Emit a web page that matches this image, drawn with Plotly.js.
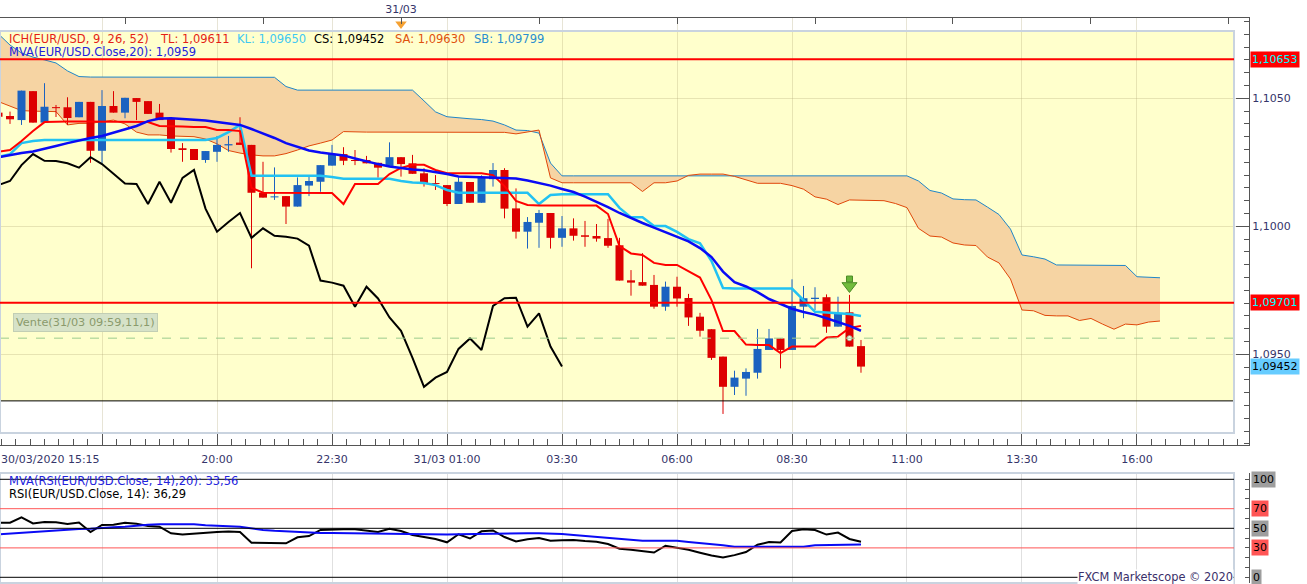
<!DOCTYPE html>
<html>
<head>
<meta charset="utf-8">
<script src="https://cdn.plot.ly/plotly-3.0.1.min.js"></script>
<style>
html,body{margin:0;padding:0;background:#ffffff;}
#chart{width:1307px;height:584px;}
</style>
</head>
<body>
<div id="chart"></div>
<script>
// ---------- DATA (EUR/USD, 15 min, from 30/03/2020 15:15) ----------
const open = [1.10444,1.10431,1.10415,1.10528,1.10405,1.10465,1.10465,1.10426,1.10486,1.10295,
1.10470,1.10444,1.10501,1.10489,1.10444,1.10419,1.10305,1.10302,1.10259,1.10291,
1.10316,1.10327,1.10318,1.10131,1.10113,1.10118,1.10077,1.10159,1.10174,1.10237,
1.10282,1.10259,1.10259,1.10248,1.10236,1.10270,1.10246,1.10207,1.10169,1.10161,
1.10087,1.10173,1.10092,1.10184,1.10220,1.10070,1.09979,1.10014,1.10052,1.09955,
1.09992,1.09965,1.09962,1.09954,1.09926,1.09789,1.09782,1.09771,1.09686,1.09764,
1.09720,1.09647,1.09598,1.09491,1.09373,1.09405,1.09428,1.09517,1.09562,1.09517,
1.09686,1.09716,1.09723,1.09608,1.09664,1.09532];
const high = [1.10454,1.10448,1.10530,1.10528,1.10559,1.10474,1.10504,1.10486,1.10486,1.10532,
1.10528,1.10502,1.10501,1.10489,1.10478,1.10419,1.10325,1.10302,1.10294,1.10353,
1.10353,1.10426,1.10318,1.10252,1.10230,1.10118,1.10191,1.10194,1.10239,1.10318,
1.10309,1.10298,1.10275,1.10248,1.10328,1.10270,1.10279,1.10227,1.10200,1.10161,
1.10191,1.10173,1.10199,1.10247,1.10227,1.10148,1.10036,1.10064,1.10052,1.10040,
1.10031,1.10021,1.10009,1.10029,1.09955,1.09829,1.09895,1.09810,1.09784,1.09803,
1.09736,1.09662,1.09598,1.09491,1.09436,1.09445,1.09599,1.09599,1.09562,1.09793,
1.09767,1.09762,1.09734,1.09725,1.09732,1.09556];
const low = [1.10423,1.10400,1.10396,1.10405,1.10405,1.10427,1.10396,1.10426,1.10248,1.10246,
1.10444,1.10422,1.10415,1.10439,1.10415,1.10288,1.10252,1.10259,1.10248,1.10252,
1.10291,1.10318,1.09836,1.10112,1.10103,1.10009,1.10077,1.10118,1.10135,1.10237,
1.10239,1.10239,1.10246,1.10190,1.10236,1.10194,1.10205,1.10155,1.10142,1.10079,
1.10087,1.10092,1.10092,1.10155,1.10031,1.09952,1.09913,1.09916,1.09913,1.09920,
1.09944,1.09920,1.09940,1.09916,1.09788,1.09729,1.09768,1.09678,1.09670,1.09686,
1.09611,1.09569,1.09478,1.09267,1.09341,1.09338,1.09405,1.09517,1.09445,1.09517,
1.09641,1.09673,1.09584,1.09608,1.09530,1.09428];
const close = [1.10428,1.10418,1.10530,1.10405,1.10467,1.10462,1.10423,1.10486,1.10295,1.10470,
1.10444,1.10502,1.10486,1.10439,1.10415,1.10302,1.10298,1.10259,1.10294,1.10318,
1.10321,1.10318,1.10131,1.10112,1.10117,1.10077,1.10161,1.10177,1.10239,1.10282,
1.10256,1.10255,1.10246,1.10229,1.10270,1.10243,1.10205,1.10167,1.10165,1.10087,
1.10174,1.10092,1.10189,1.10220,1.10069,1.09979,1.10017,1.10052,1.09955,1.09992,
1.09963,1.09959,1.09952,1.09924,1.09788,1.09780,1.09768,1.09686,1.09764,1.09718,
1.09644,1.09592,1.09486,1.09373,1.09409,1.09431,1.09521,1.09562,1.09517,1.09689,
1.09719,1.09721,1.09608,1.09660,1.09530,1.09452];

// Ichimoku Tenkan (TL) and Kijun (KL)
const tenkan = [1.10291,1.10298,1.10333,1.10372,1.10407,1.10409,1.10409,1.10409,1.10409,1.10409,
1.10409,1.10409,1.10409,1.10407,1.10392,1.10392,1.10390,1.10388,1.10388,1.10376,
1.10376,1.10372,1.10150,1.10131,1.10131,1.10131,1.10131,1.10131,1.10131,1.10130,
1.10087,1.10165,1.10165,1.10165,1.10204,1.10228,1.10240,1.10240,1.10220,1.10207,
1.10207,1.10207,1.10207,1.10200,1.10157,1.10099,1.10083,1.10081,1.10081,1.10081,
1.10081,1.10081,1.10081,1.10048,1.09923,1.09894,1.09888,1.09857,1.09849,1.09849,
1.09825,1.09800,1.09712,1.09591,1.09591,1.09538,1.09536,1.09536,1.09505,1.09530,
1.09530,1.09530,1.09566,1.09569,1.09603,1.09611];
const kijun = [1.10271,1.10282,1.10325,1.10333,1.10337,1.10337,1.10337,1.10337,1.10337,1.10337,
1.10337,1.10337,1.10337,1.10337,1.10337,1.10337,1.10337,1.10337,1.10337,1.10345,
1.10368,1.10396,1.10197,1.10197,1.10197,1.10197,1.10197,1.10197,1.10197,1.10193,
1.10186,1.10186,1.10186,1.10186,1.10186,1.10177,1.10171,1.10169,1.10161,1.10142,
1.10131,1.10131,1.10131,1.10131,1.10131,1.10131,1.10131,1.10087,1.10122,1.10125,
1.10125,1.10125,1.10125,1.10125,1.10072,1.10035,1.10035,1.10001,1.10001,1.09978,
1.09950,1.09934,1.09864,1.09759,1.09757,1.09757,1.09757,1.09757,1.09757,1.09757,
1.09712,1.09666,1.09663,1.09661,1.09657,1.09650];
// Senkou A / B (cloud, 26 bars ahead)
const senkouA = [1.10487,1.10470,1.10452,1.10450,1.10448,1.10448,1.10396,1.10402,1.10402,1.10409,
1.10415,1.10400,1.10368,1.10357,1.10357,1.10353,1.10351,1.10350,1.10341,1.10322,
1.10296,1.10286,1.10279,1.10275,1.10275,1.10284,1.10298,1.10314,1.10325,1.10337,
1.10370,1.10368,1.10368,1.10368,1.10368,1.10368,1.10368,1.10368,1.10368,1.10367,
1.10367,1.10367,1.10367,1.10367,1.10367,1.10361,1.10368,1.10376,1.10189,1.10170,
1.10170,1.10170,1.10170,1.10170,1.10170,1.10170,1.10136,1.10170,1.10170,1.10177,
1.10199,1.10204,1.10204,1.10204,1.10195,1.10181,1.10168,1.10168,1.10168,1.10159,
1.10145,1.10115,1.10106,1.10085,1.10103,1.10102,1.10102,1.10100,1.10089,1.10073,
1.09992,1.09962,1.09958,1.09935,1.09927,1.09925,1.09880,1.09857,1.09794,1.09673,
1.09670,1.09652,1.09650,1.09650,1.09632,1.09640,1.09618,1.09598,1.09618,1.09615,
1.09626,1.09630];
const senkouB = [1.10751,1.10708,1.10677,1.10661,1.10650,1.10638,1.10607,1.10585,1.10583,1.10583,
1.10583,1.10583,1.10583,1.10583,1.10583,1.10583,1.10583,1.10583,1.10583,1.10583,
1.10583,1.10583,1.10583,1.10583,1.10582,1.10546,1.10532,1.10532,1.10532,1.10532,
1.10532,1.10532,1.10532,1.10532,1.10532,1.10532,1.10532,1.10490,1.10447,1.10428,
1.10423,1.10420,1.10417,1.10411,1.10396,1.10376,1.10374,1.10364,1.10247,1.10197,
1.10197,1.10197,1.10197,1.10197,1.10197,1.10197,1.10197,1.10197,1.10197,1.10197,
1.10197,1.10197,1.10197,1.10197,1.10197,1.10197,1.10197,1.10197,1.10197,1.10197,
1.10197,1.10197,1.10197,1.10197,1.10197,1.10197,1.10197,1.10197,1.10197,1.10197,
1.10177,1.10140,1.10130,1.10107,1.10104,1.10103,1.10075,1.10046,1.09989,1.09888,
1.09881,1.09872,1.09849,1.09849,1.09849,1.09849,1.09849,1.09849,1.09847,1.09803,
1.09802,1.09799];
// MVA(Close,20)
const mva20 = [1.10270,1.10279,1.10286,1.10292,1.10302,1.10314,1.10325,1.10336,1.10345,1.10353,
1.10366,1.10378,1.10392,1.10411,1.10421,1.10422,1.10419,1.10417,1.10413,1.10407,
1.10402,1.10396,1.10380,1.10363,1.10345,1.10325,1.10310,1.10296,1.10288,1.10282,
1.10277,1.10265,1.10253,1.10243,1.10234,1.10227,1.10222,1.10219,1.10212,1.10204,
1.10195,1.10193,1.10193,1.10191,1.10189,1.10187,1.10179,1.10170,1.10159,1.10146,
1.10134,1.10116,1.10097,1.10075,1.10052,1.10031,1.10013,1.09995,1.09978,1.09961,
1.09941,1.09915,1.09880,1.09823,1.09782,1.09765,1.09743,1.09716,1.09697,1.09678,
1.09665,1.09655,1.09641,1.09626,1.09611,1.09592];
// RSI(14) and its MVA(20)
const rsi = [55.7,55.7,61.2,54.9,56.4,56.1,54.4,55.9,46.2,53.4,
53.7,55.7,54.6,52.3,51.6,44.9,43.6,44.7,45.8,46.2,
46.7,46.2,35.3,35.0,34.7,34.7,40.8,42.1,48.3,49.0,
49.0,49.0,47.6,46.2,49.5,47.2,43.2,41.4,39.1,35.7,
43.9,39.6,46.9,47.8,41.1,36.5,38.9,40.1,37.3,37.8,
38.1,37.0,36.2,34.0,29.1,28.1,27.0,25.3,32.2,30.4,
28.1,25.1,22.2,20.2,22.6,25.8,33.2,36.0,35.5,47.2,
49.0,48.3,43.6,45.7,39.1,36.29];
const rsiMva = [43.9,44.7,45.5,46.0,46.7,47.4,48.7,49.2,49.5,50.5,
51.1,51.7,52.8,53.6,54.2,54.4,54.4,54.1,53.1,52.3,
52.0,51.6,49.6,48.3,47.4,46.7,46.0,45.6,45.2,45.1,
44.9,44.8,44.6,44.5,44.4,44.2,44.0,43.8,43.6,43.7,
44.0,44.2,44.6,44.9,44.9,44.9,44.9,44.9,44.9,44.2,
43.2,42.1,41.1,40.1,39.1,38.1,37.3,37.3,37.3,37.3,
36.0,35.0,34.0,32.7,31.2,31.2,31.2,31.2,31.2,31.2,
31.2,32.7,32.8,33.0,33.6,33.56];

// Levels, order and signal
const redLevels = [1.10653, 1.09701];
const zoneLow = 1.09318;
const orderLevel = 1.09563;
const signalIndex = 74;
const signalPrice = [1.09794, 1.09767];
const rsiLevels = [100, 70, 50, 30, 0];

// Axis ticks / labels
const gridTimes = ['2020-03-30 17:30','2020-03-30 20:00','2020-03-30 22:30','2020-03-31 01:00','2020-03-31 03:30','2020-03-31 06:00','2020-03-31 08:30','2020-03-31 11:00','2020-03-31 13:30','2020-03-31 16:00'];
const gridLabels = ['','20:00','22:30','31/03 01:00','03:30','06:00','08:30','11:00','13:30','16:00'];
const firstLabel = '30/03/2020 15:15';
const topTimes = ['2020-03-30 18:00','2020-03-30 21:00','2020-03-31 00:00','2020-03-31 03:00','2020-03-31 06:00','2020-03-31 09:00','2020-03-31 12:00','2020-03-31 15:00','2020-03-31 18:00'];
const topLabels = ['','','31/03','','','','','',''];
const priceTicks = [1.0950, 1.1000, 1.1050];

// ---------- BUILD ----------
function pad(n){return (n<10?'0':'')+n;}
function timeAt(i){
  const m = 15*60 + 15 + 15*i;
  const day = 30 + Math.floor(m/1440);
  const mm = m % 1440;
  return '2020-03-' + day + ' ' + pad(Math.floor(mm/60)) + ':' + pad(mm%60);
}
const times = senkouA.map((_, i) => timeAt(i));
const candleTimes = times.slice(0, close.length);
const chikouTimes = times.slice(0, close.length - 26);
const chikouVals = close.slice(26);
const f5 = v => v.toFixed(5).replace('.', ',');
const f4 = v => v.toFixed(4).replace('.', ',');
const f2 = v => v.toFixed(2).replace('.', ',');

// candles drawn as line segments (so they sit above the cloud fill)
const minBody = 0.00004;
const wick = {up:{x:[],y:[]}, dn:{x:[],y:[]}};
const body = {up:{x:[],y:[]}, dn:{x:[],y:[]}};
candleTimes.forEach((t, i) => {
  const k = close[i] >= open[i] ? 'up' : 'dn';
  let b0 = Math.min(open[i], close[i]), b1 = Math.max(open[i], close[i]);
  if (b1 - b0 < minBody) { const m = (b0 + b1) / 2; b0 = m - minBody/2; b1 = m + minBody/2; }
  wick[k].x.push(t, t, null); wick[k].y.push(low[i], high[i], null);
  body[k].x.push(t, t, null); body[k].y.push(b0, b1, null);
});

const xRange = ['2020-03-30 15:16:57', '2020-03-31 18:26:06'];
const yRange = [1.091457, 1.108137];
const rsiRange = [-5.82, 106.43];
const W = 1249, PT = 18, PH = 565;
const px = x => x / W;
const py = y => (PT + PH - y) / PH;
const frameR = px(1234);

const UP = '#1B62C0', DN = '#DD0000';
const last = close.length - 1;
const L = (x, y, color, width, extra) => Object.assign({x:x, y:y, type:'scatter', mode:'lines', line:{color:color, width:width}, hoverinfo:'skip', connectgaps:false}, extra||{});
const traces = [
  L(times, senkouB, '#1F86C8', 1),
  L(times, senkouA, '#E0480A', 1, {fill:'tonexty', fillcolor:'#F6D4A3'}),
  L(wick.up.x, wick.up.y, UP, 1),
  L(wick.dn.x, wick.dn.y, DN, 1),
  L(body.up.x, body.up.y, UP, 8),
  L(body.dn.x, body.dn.y, DN, 8),
  L(chikouTimes, chikouVals, '#000000', 2),
  L(candleTimes, kijun, '#22C2F2', 2.5),
  L(candleTimes, tenkan, '#FF0000', 2),
  L(candleTimes, mva20, '#0A0AF5', 2.5),
  {x: [times[signalIndex]], y: [signalPrice[0]], type:'scatter', mode:'markers', marker:{symbol:'square', size:6, color:'#6AB53A', line:{color:'#4C8C25', width:1}}, hoverinfo:'skip', cliponaxis:false},
  {x: [times[signalIndex]], y: [signalPrice[1]], type:'scatter', mode:'markers', marker:{symbol:'triangle-down', size:13, color:'#72BC3C', line:{color:'#4C8C25', width:1}}, hoverinfo:'skip', cliponaxis:false},
  {x: [times[signalIndex]], y: [orderLevel], type:'scatter', mode:'markers', marker:{symbol:'circle', size:5, color:'#FFFFFF', line:{color:'#9DB08A', width:1}}, hoverinfo:'skip'},
  L(candleTimes, rsi, '#000000', 2, {xaxis:'x2', yaxis:'y2'}),
  L(candleTimes, rsiMva, '#0A0AF5', 2, {xaxis:'x2', yaxis:'y2'}),
  {x: [topTimes[2]], y: [1.10790], xaxis:'x3', yaxis:'y', type:'scatter', mode:'markers', marker:{symbol:'triangle-down', size:10, color:'#F5A132'}, hoverinfo:'skip', cliponaxis:false}
];

const txt = '#35356A';
const shapes = [
  {type:'rect', xref:'paper', yref:'y', x0:0, x1:frameR, y0:zoneLow, y1:1.10763, fillcolor:'#FFFFCC', line:{width:0}, layer:'below'},
  {type:'line', xref:'paper', yref:'y', x0:0, x1:frameR, y0:zoneLow, y1:zoneLow, line:{color:'#000000', width:1}, layer:'above'},
  {type:'line', xref:'paper', yref:'y', x0:0, x1:frameR, y0:orderLevel, y1:orderLevel, line:{color:'#9CCB8E', width:1, dash:'dash'}, layer:'above'},
  {type:'rect', xref:'paper', yref:'paper', x0:0, x1:frameR, y0:py(433), y1:py(31), line:{color:'#C9D3DF', width:2}, layer:'above'},
  {type:'rect', xref:'paper', yref:'paper', x0:0, x1:frameR, y0:py(583), y1:py(473), line:{color:'#C9D3DF', width:2}, layer:'above'}
];
redLevels.forEach(v => shapes.push({type:'line', xref:'paper', yref:'y', x0:0, x1:frameR, y0:v, y1:v, line:{color:'#FF0000', width:2}, layer:'above'}));
rsiLevels.forEach(v => shapes.push({type:'line', xref:'paper', yref:'y2', x0:0, x1:frameR, y0:v, y1:v, line:{color:(v===70||v===30)?'#FF5555':'#000000', width:1}, layer:'above'}));

const lf = 11.5;
const ann = [];
function note(x, y, text, color, extra){
  ann.push(Object.assign({xref:'paper', yref:'paper', x:px(x), y:py(y), xanchor:'left', yanchor:'middle', text:text, showarrow:false, font:{size:lf, color:color}, borderpad:0}, extra||{}));
}
note(8, 39, 'ICH(EUR/USD, 9, 26, 52)', '#E41E16');
note(159, 39, 'TL: ' + f5(tenkan[last]), '#E41E16');
note(236, 39, 'KL: ' + f5(kijun[last]), '#3FC8F2');
note(313, 39, 'CS: ' + f5(close[last]), '#000000');
note(394, 39, 'SA: ' + f5(senkouA[senkouA.length-1]), '#E0520E');
note(473, 39, 'SB: ' + f5(senkouB[senkouB.length-1]), '#2A8ED0');
note(8, 52, 'MVA(EUR/USD.Close,20): ' + f4(mva20[last]), '#2323DC');
note(8, 481, 'MVA(RSI(EUR/USD.Close, 14),20): ' + f2(rsiMva[last]), '#2323DC');
note(8, 494, 'RSI(EUR/USD.Close, 14): ' + f2(rsi[last]), '#000000');
note(0, 459, firstLabel, txt, {font:{size:11, color:txt}});
note(13, 322, 'Vente(31/03 09:59,11,1)', '#8A9A6C', {bgcolor:'#D6E2C8', bordercolor:'#C2CEB4', borderwidth:1, borderpad:2, font:{size:11.3, color:'#8A9A6C'}});
ann.push({xref:'paper', yref:'y2', x:frameR, y:0, xanchor:'right', yanchor:'middle', text:'FXCM Marketscope © 2020', showarrow:false, bgcolor:'#FFFFFF', font:{size:11.4, color:'#3A2F6A'}, borderpad:0});
redLevels.forEach(v => ann.push({xref:'paper', yref:'y', x:1, y:v, xanchor:'left', yanchor:'middle', xshift:1, text:f5(v), showarrow:false, bgcolor:'#FF0000', font:{size:11, color:'#00FFFF'}, borderpad:1}));
ann.push({xref:'paper', yref:'y', x:1, y:close[last], xanchor:'left', yanchor:'middle', xshift:1, text:f5(close[last]), showarrow:false, bgcolor:'#66CCFF', font:{size:11, color:'#000000'}, borderpad:1});
rsiLevels.forEach(v => ann.push({xref:'paper', yref:'y2', x:1, y:v, xanchor:'left', yanchor:'middle', xshift:2, text:String(v), showarrow:false, bgcolor:(v===70||v===30)?'#FF5555':'#9E9E9E', font:{size:11, color:'#000000'}, borderpad:1}));

const grid = 'rgba(175,165,120,0.30)';
const layout = {
  width:1307, height:584,
  margin:{l:0, r:58, t:18, b:1, pad:0},
  paper_bgcolor:'#FFFFFF', plot_bgcolor:'#FFFFFF',
  separators:',.',
  showlegend:false,
  font:{family:'DejaVu Sans, Verdana, sans-serif', size:11, color:txt},
  xaxis:{type:'date', range:xRange, domain:[0,1], anchor:'y', showline:true, linecolor:'#555555', linewidth:1,
    ticks:'inside', ticklen:12, tickcolor:'#555555', tickmode:'array', tickvals:gridTimes, ticktext:gridLabels,
    ticklabelstandoff:4, tickfont:{size:11, color:txt},
    showgrid:true, gridcolor:grid, zeroline:false, fixedrange:true,
    minor:{ticks:'inside', ticklen:6, tickcolor:'#555555', tick0:'2020-03-30 17:30', dtick:1125000, showgrid:false}},
  yaxis:{domain:[py(445), 1], range:yRange, side:'right', anchor:'x', showline:true, linecolor:'#555555', linewidth:1,
    ticks:'inside', ticklen:13, tickcolor:'#555555', tickmode:'array', tickvals:priceTicks, tickformat:'.4f',
    tickfont:{size:11, color:txt}, showgrid:true, gridcolor:grid, zeroline:false, fixedrange:true,
    minor:{ticks:'inside', ticklen:5, tickcolor:'#555555', tick0:1.095, dtick:0.0005, showgrid:false}},
  xaxis2:{type:'date', range:xRange, domain:[0,1], anchor:'y2', showticklabels:false, ticks:'', tickmode:'array', tickvals:gridTimes,
    showgrid:true, gridcolor:'#E0E0E0', showline:false, zeroline:false, fixedrange:true},
  yaxis2:{domain:[0, py(473)], range:rsiRange, side:'right', anchor:'x2', showline:true, linecolor:'#555555', linewidth:1,
    ticks:'inside', ticklen:4, tickcolor:'#555555', tickmode:'array', tickvals:[0,10,20,30,40,50,60,70,80,90,100],
    showticklabels:false, showgrid:false, zeroline:false, fixedrange:true},
  xaxis3:{type:'date', range:xRange, overlaying:'x', side:'top', anchor:'y', showline:true, linecolor:'#555555', linewidth:1,
    ticks:'inside', ticklen:6, tickcolor:'#555555', tickmode:'array', tickvals:topTimes, ticktext:topLabels,
    tickfont:{size:11, color:txt}, showgrid:false, zeroline:false, fixedrange:true},
  shapes:shapes,
  annotations:ann
};
Plotly.newPlot('chart', traces, layout, {staticPlot:true, displayModeBar:false});
</script>
</body>
</html>
